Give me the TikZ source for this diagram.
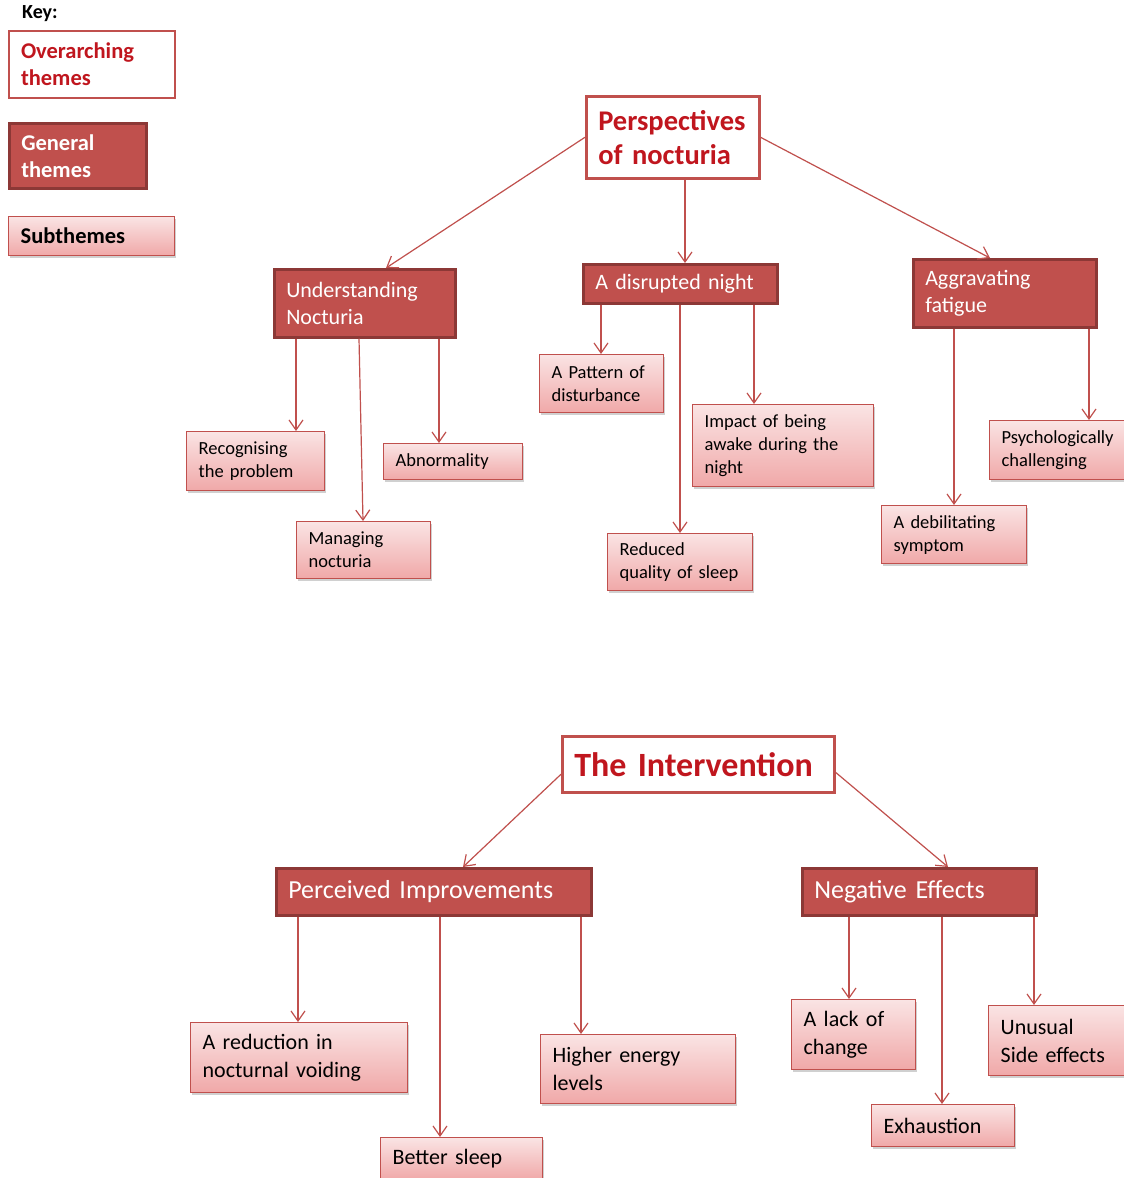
\documentclass[tikz,border=0pt]{standalone}
\usepackage{fontspec}
\setmainfont{Carlito}
\usetikzlibrary{arrows.meta,shadows}
\definecolor{themered}{RGB}{192,80,77}
\definecolor{themedark}{RGB}{140,56,54}
\definecolor{titlered}{RGB}{192,22,30}
\definecolor{subtop}{RGB}{250,228,228}
\definecolor{subbot}{RGB}{240,168,168}
\begin{document}
\begin{tikzpicture}[x=1pt, y=-1pt,
    every node/.style = {shape=rectangle, anchor=north west, align=left,
      inner xsep=12pt, inner ysep=0pt},
    over/.style = {draw=themered, line width=2.5pt, fill=white, text=titlered,
      font=\bfseries\fontsize{28.5}{34}\selectfont},
    general/.style = {draw=themedark, line width=2.5pt, fill=themered, text=white,
      font=\fontsize{22}{27}\selectfont,
      drop shadow={shadow xshift=1pt, shadow yshift=-2pt, opacity=0.3, fill=black!60}},
    sub/.style = {draw=themered, line width=1.3pt, top color=subtop, bottom color=subbot,
      font=\fontsize{18.5}{23}\selectfont,
      drop shadow={shadow xshift=1pt, shadow yshift=-2.5pt, opacity=0.3, fill=black!60}},
    subbig/.style = {sub, font=\fontsize{22}{28}\selectfont},
    keyfont/.style = {font=\bfseries\fontsize{22.5}{27}\selectfont},
    link/.style = {draw=themered, line width=1.2pt,
      -{Straight Barb[length=10pt, width=14pt]}}]
  \path[use as bounding box, fill=white] (0,0) rectangle (1124,1178);

  % key
  \node[anchor=west, inner xsep=0pt, font=\bfseries\fontsize{20}{24}\selectfont] (key) at (22,14) {Key:};
  \node[over, keyfont, line width=2pt, text width=142pt, minimum height=67pt] (kover) at (8,30) {Overarching\\themes};
  \node[general, keyfont, text width=113pt, minimum height=65pt] (kgen) at (8,122) {General\\themes};
  \node[sub, keyfont, text width=142pt, minimum height=39pt] (ksub) at (8,216) {Subthemes};

  % perspectives of nocturia
  \node[over, text width=149pt, minimum height=82pt] (pers) at (585,95) {Perspectives\\of nocturia};
  \node[general, text width=157pt, minimum height=68pt] (und) at (273,268) {Understanding\\Nocturia};
  \node[general, text width=170pt, minimum height=39pt] (dis) at (582,263) {A disrupted night};
  \node[general, text width=159pt, minimum height=68pt] (agg) at (912,258) {Aggravating\\fatigue};

  \node[sub, text width=114pt, minimum height=59pt] (rec) at (186,431) {Recognising\\the problem};
  \node[sub, text width=110pt, minimum height=57pt] (man) at (296,521) {Managing\\nocturia};
  \node[sub, text width=115pt, minimum height=36pt] (abn) at (383,443) {Abnormality};
  \node[sub, text width=100pt, minimum height=58pt] (pat) at (539,354) {A Pattern of\\disturbance};
  \node[sub, text width=157pt, minimum height=82pt] (imp) at (692,404) {Impact of being\\awake during the\\night};
  \node[sub, text width=121pt, minimum height=57pt] (red) at (607,533) {Reduced\\quality of sleep};
  \node[sub, text width=130pt, minimum height=59pt] (psy) at (989,420) {Psychologically\\challenging};
  \node[sub, text width=121pt, minimum height=58pt] (deb) at (881,505) {A debilitating\\symptom};

  \draw[link] (pers.west) -- (386,0 |- und.north);
  \draw[link] (685,0 |- pers.south) -- (685,0 |- dis.north);
  \draw[link] (pers.east) -- (990,0 |- agg.north);
  \draw[link] (296,0 |- und.south) -- (296,0 |- rec.north);
  \draw[link] (359,0 |- und.south) -- (363,0 |- man.north);
  \draw[link] (439,0 |- und.south) -- (439,0 |- abn.north);
  \draw[link] (601,0 |- dis.south) -- (601,0 |- pat.north);
  \draw[link] (680,0 |- dis.south) -- (680,0 |- red.north);
  \draw[link] (754,0 |- dis.south) -- (754,0 |- imp.north);
  \draw[link] (954,0 |- agg.south) -- (954,0 |- deb.north);
  \draw[link] (1089,0 |- agg.south) -- (1089,0 |- psy.north);

  % the intervention
  \node[over, font=\bfseries\fontsize{34}{40}\selectfont, text width=248pt, minimum height=56pt] (int) at (561,735) {The Intervention};
  \node[general, font=\fontsize{26}{31}\selectfont, text width=291pt, minimum height=47pt] (per) at (275,867) {Perceived Improvements};
  \node[general, font=\fontsize{26}{31}\selectfont, text width=210pt, minimum height=47pt] (neg) at (801,867) {Negative Effects};

  \node[subbig, text width=193pt, minimum height=70pt] (vod) at (190,1022) {A reduction in\\nocturnal voiding};
  \node[subbig, text width=138pt, minimum height=42pt] (bet) at (380,1137) {Better sleep};
  \node[subbig, text width=171pt, minimum height=69pt] (hig) at (540,1034) {Higher energy\\levels};
  \node[subbig, text width=100pt, minimum height=70pt] (lac) at (791,999) {A lack of\\change};
  \node[subbig, text width=130pt, minimum height=70pt] (unu) at (988,1005) {Unusual\\Side effects};
  \node[subbig, text width=119pt, minimum height=42pt] (exh) at (871,1104) {Exhaustion};

  \draw[link] ([yshift=-10pt]int.west) -- (463,0 |- per.north);
  \draw[link] ([yshift=-8pt]int.east) -- (948,0 |- neg.north);
  \draw[link] (298,0 |- per.south) -- (298,0 |- vod.north);
  \draw[link] (440,0 |- per.south) -- (440,0 |- bet.north);
  \draw[link] (581,0 |- per.south) -- (581,0 |- hig.north);
  \draw[link] (849,0 |- neg.south) -- (849,0 |- lac.north);
  \draw[link] (942,0 |- neg.south) -- (942,0 |- exh.north);
  \draw[link] (1034,0 |- neg.south) -- (1034,0 |- unu.north);
\end{tikzpicture}
\end{document}
